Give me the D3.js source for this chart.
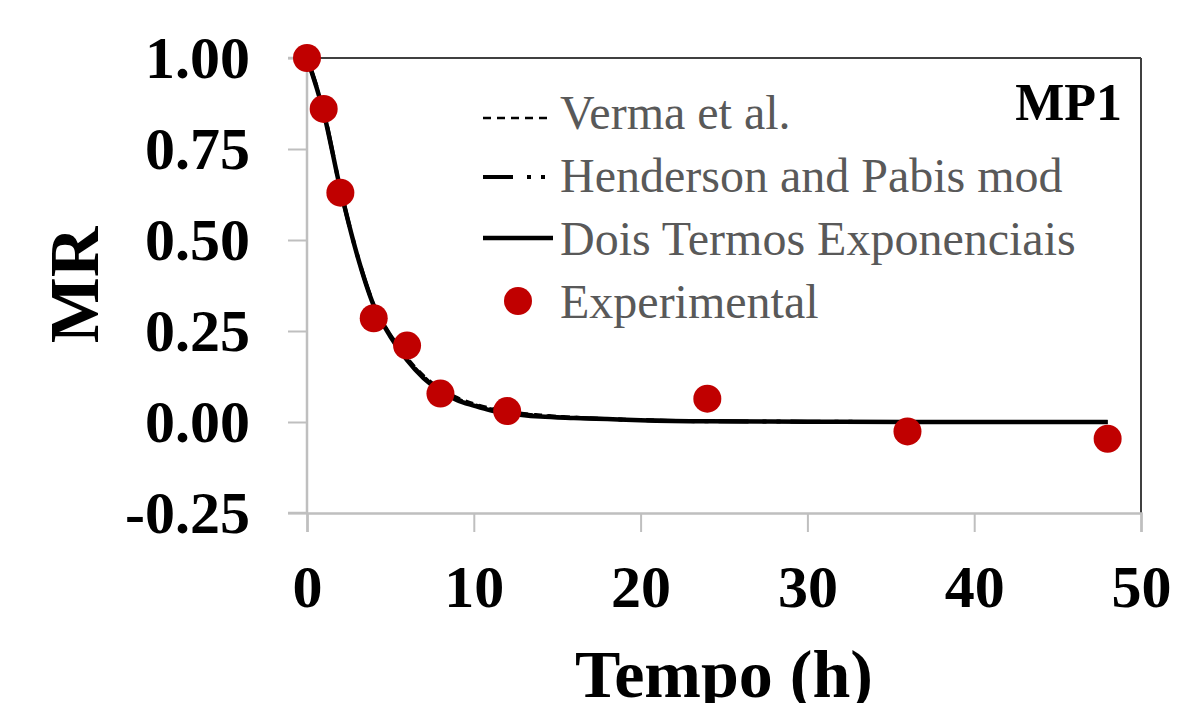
<!DOCTYPE html>
<html>
<head>
<meta charset="utf-8">
<script src="https://cdn.jsdelivr.net/npm/d3@7"></script>
<style>
  html, body { margin: 0; padding: 0; background: #fff; }
  svg { display: block; }
  text { font-family: "Liberation Serif", "Times New Roman", serif; }
</style>
</head>
<body>
<svg id="chart" width="1198" height="703"></svg>
<script>
// ---------- data ----------
const expTimes = [0, 1, 2, 4, 6, 8, 12, 24, 36, 48];
const expMR    = [1.00, 0.86, 0.63, 0.285, 0.21, 0.078, 0.030, 0.064, -0.026, -0.046];

const modelTimes = [0, 1, 2, 3, 4, 5, 6, 7, 8, 9, 10, 11, 12, 14, 16, 18, 20, 24, 30, 36, 42, 48];
const vermaMR     = [1.00, 0.855, 0.64, 0.462, 0.325, 0.242, 0.178, 0.128, 0.093, 0.068, 0.051, 0.039, 0.030, 0.020, 0.014, 0.010, 0.007, 0.003, 0.001, 0.000, 0.000, 0.000];
const hendersonMR = [1.00, 0.853, 0.64, 0.461, 0.322, 0.238, 0.173, 0.123, 0.088, 0.063, 0.047, 0.035, 0.027, 0.017, 0.012, 0.008, 0.005, 0.002, 0.001, 0.000, 0.000, 0.000];
const doisMR      = [1.00, 0.85, 0.64, 0.46, 0.32, 0.235, 0.17, 0.12, 0.085, 0.06, 0.045, 0.032, 0.024, 0.015, 0.011, 0.008, 0.005, 0.002, 0.001, 0.000, 0.000, 0.000];

const xTicks = [0, 10, 20, 30, 40, 50];
const xTickLabels = ["0", "10", "20", "30", "40", "50"];
const yTicks = [-0.25, 0, 0.25, 0.5, 0.75, 1.0];
const yTickLabels = ["-0.25", "0.00", "0.25", "0.50", "0.75", "1.00"];

const legendNames = ["Verma et al.", "Henderson and Pabis mod", "Dois Termos Exponenciais", "Experimental"];
const xTitle = "Tempo (h)";
const yTitle = "MR";
const panelLabel = "MP1";

// ---------- layout ----------
const svg = d3.select("#chart");
const x = d3.scaleLinear().domain([0, 50]).range([307, 1141]);
const y = d3.scaleLinear().domain([-0.25, 1.0]).range([513, 58]);

const axisGray = "#bfbfbf";
const frameDark = "#404040";

// frame (top & right)
svg.append("line").attr("x1", x(0)).attr("x2", x(50)).attr("y1", y(1)).attr("y2", y(1))
  .attr("stroke", frameDark).attr("stroke-width", 2);
svg.append("line").attr("x1", x(50)).attr("x2", x(50)).attr("y1", y(1)).attr("y2", y(-0.25))
  .attr("stroke", frameDark).attr("stroke-width", 2);

// axes
const yAxis = d3.axisLeft(y).tickValues(yTicks)
  .tickFormat((d, i) => yTickLabels[i]).tickSize(19).tickPadding(38);
const gy = svg.append("g").attr("transform", `translate(${x(0)},0)`).call(yAxis);

const xAxis = d3.axisBottom(x).tickValues(xTicks)
  .tickFormat((d, i) => xTickLabels[i]).tickSize(19).tickPadding(32);
const gx = svg.append("g").attr("transform", `translate(0,${y(-0.25)})`).call(xAxis);

[gx, gy].forEach(g => {
  g.select(".domain").attr("stroke", axisGray).attr("stroke-width", 2.5);
  g.selectAll(".tick line").attr("stroke", axisGray).attr("stroke-width", 2);
  g.selectAll(".tick text")
    .attr("fill", "#000")
    .style("font-family", '"Liberation Serif", "Times New Roman", serif')
    .style("font-weight", "bold")
    .style("font-size", "60px");
});
gy.select(".domain").attr("d", `M-19,${y(1)}H0V${y(-0.25)}H-19`);

// axis titles
svg.append("text").attr("x", 724).attr("y", 697).attr("text-anchor", "middle")
  .style("font-weight", "bold").style("font-size", "68px").attr("fill", "#000").text(xTitle);
svg.append("text").attr("transform", "translate(98,285) rotate(-90)").attr("text-anchor", "middle")
  .style("font-weight", "bold").style("font-size", "70px").attr("fill", "#000").text(yTitle);

// panel label
svg.append("text").attr("x", 1122).attr("y", 120).attr("text-anchor", "end")
  .style("font-weight", "bold").style("font-size", "52px").attr("fill", "#000").text(panelLabel);

// ---------- model lines ----------
const lineGen = vals => d3.line()
  .x((d, i) => x(modelTimes[i]))
  .y((d, i) => y(vals[i]))
  .curve(d3.curveMonotoneX)(vals);

const hendDash = "30,14,4,10,4,10";
svg.append("path").attr("d", lineGen(vermaMR)).attr("fill", "none")
  .attr("stroke", "#000").attr("stroke-width", 2.5).attr("stroke-dasharray", "8,6");
svg.append("path").attr("d", lineGen(hendersonMR)).attr("fill", "none")
  .attr("stroke", "#000").attr("stroke-width", 4).attr("stroke-dasharray", hendDash);
svg.append("path").attr("d", lineGen(doisMR)).attr("fill", "none")
  .attr("stroke", "#000").attr("stroke-width", 4.5);

// ---------- experimental points ----------
svg.append("g").selectAll("circle").data(expMR).join("circle")
  .attr("cx", (d, i) => x(expTimes[i]))
  .attr("cy", d => y(d))
  .attr("r", 14)
  .attr("fill", "#c00000");

// ---------- legend ----------
const legX1 = 483, legX2 = 553, legTextX = 560;
const legBaselines = [129, 192, 255, 318];
const legLineY = [118, 177, 238, 301];
const leg = svg.append("g");
leg.append("line").attr("x1", legX1).attr("x2", 547).attr("y1", legLineY[0]).attr("y2", legLineY[0])
  .attr("stroke", "#000").attr("stroke-width", 2.5).attr("stroke-dasharray", "8,6");
leg.append("line").attr("x1", legX1).attr("x2", legX2).attr("y1", legLineY[1]).attr("y2", legLineY[1])
  .attr("stroke", "#000").attr("stroke-width", 4).attr("stroke-dasharray", hendDash);
leg.append("line").attr("x1", legX1).attr("x2", legX2).attr("y1", legLineY[2]).attr("y2", legLineY[2])
  .attr("stroke", "#000").attr("stroke-width", 4.5);
leg.append("circle").attr("cx", 518).attr("cy", legLineY[3]).attr("r", 14).attr("fill", "#c00000");
leg.selectAll("text.lg").data(legendNames).join("text").attr("class", "lg")
  .attr("x", legTextX).attr("y", (d, i) => legBaselines[i])
  .style("font-size", "48px").attr("fill", "#595959").text(d => d);
</script>
</body>
</html>
